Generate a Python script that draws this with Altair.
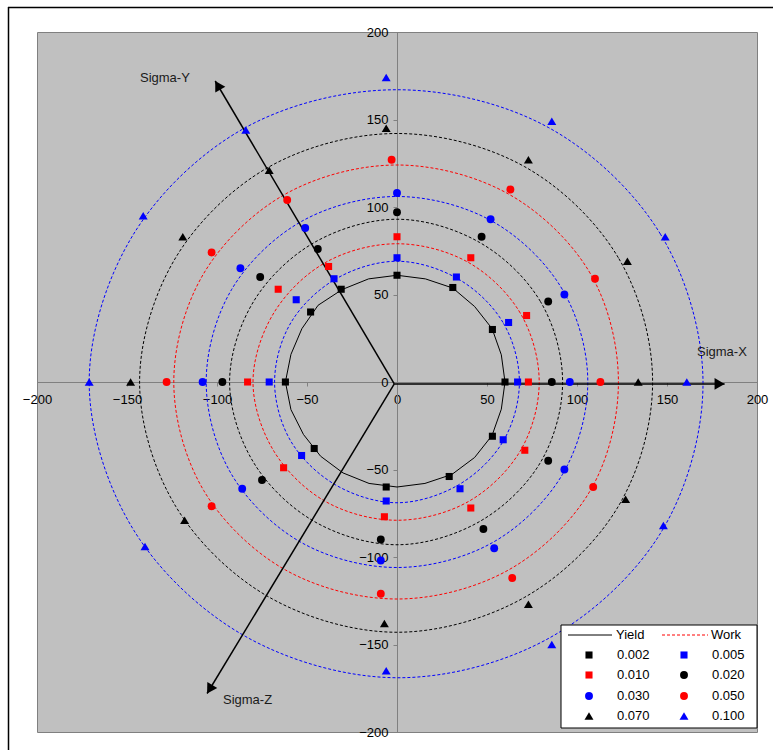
import math
import altair as alt
import pandas as pd

# ---- strain levels, marker styles -------------------------------------------
LEVELS = ["0.002", "0.005", "0.010", "0.020", "0.030", "0.050", "0.070", "0.100"]
LEVEL_COLORS = ["#000000", "#0000FF", "#FF0000", "#000000",
                "#0000FF", "#FF0000", "#000000", "#0000FF"]
LEVEL_SHAPES = ["square", "square", "square", "circle",
                "circle", "circle", "triangle-up", "triangle-up"]

# ---- measured stress points in the deviatoric plane, per strain level -------
MARK_X = {
    "0.002": [0, 31, 53, 60, 53, 29, -6, -46, -62, -48, -31],
    "0.005": [0, 33, 62, 67, 59, 35, -6, -53, -71, -56, -35],
    "0.010": [0, 41, 72, 73, 71, 41, -7, -63, -83, -66, -38],
    "0.020": [0, 47, 84, 86, 84, 48, -9, -75, -97, -76, -44],
    "0.030": [0, 52, 93, 96, 93, 54, -9, -86, -108, -87, -51],
    "0.050": [-3, 63, 110, 113, 109, 64, -9, -103, -128, -103, -61],
    "0.070": [-6, 73, 128, 134, 127, 73, -7, -118, -148, -119, -71],
    "0.100": [-6, 86, 149, 161, 148, 86, -6, -140, -171, -141, -84],
}
MARK_Y = {
    "0.002": [61, 54, 30, 0, -31, -54, -60, -38, 0, 40, 53],
    "0.005": [71, 60, 34, 0, -33, -61, -68, -42, 0, 47, 59],
    "0.010": [83, 71, 38, 0, -39, -72, -77, -49, 0, 53, 66],
    "0.020": [97, 83, 46, 0, -45, -84, -90, -56, 0, 60, 76],
    "0.030": [108, 93, 50, 0, -50, -95, -102, -61, 0, 65, 88],
    "0.050": [127, 110, 59, 0, -60, -112, -121, -71, 0, 74, 104],
    "0.070": [145, 127, 69, 0, -67, -127, -138, -79, 0, 83, 121],
    "0.100": [174, 149, 83, 0, -82, -150, -165, -94, 0, 95, 144],
}

# ---- initial yield locus (radius vs. polar angle) ---------------------------
YIELD_ANGLE = [0, 15, 30, 45, 60, 75, 90, 105, 120, 135, 150, 165,
               180, 195, 210, 225, 240, 255, 270, 285, 300, 315, 330, 345]
YIELD_R = [60, 60, 61, 61, 62, 61, 61, 61, 61, 62, 61, 61,
           62, 61, 60, 60, 60, 60, 60, 60, 61, 61, 61, 60]

# ---- equal plastic work contours (radius vs. polar angle) -------------------
WORK_LEVELS = ["0.005", "0.010", "0.020", "0.030", "0.050", "0.070", "0.100"]
WORK_COLORS = ["#0000FF", "#FF0000", "#000000", "#0000FF",
               "#FF0000", "#000000", "#0000FF"]
WORK_ANGLE = [0, 30, 60, 90, 120, 150, 180, 210, 240, 270, 300, 330]
WORK_R = {
    "0.005": [68, 68, 68, 69, 68, 68, 68, 68, 68, 69, 68, 68],
    "0.010": [79, 79, 79, 79, 79, 79, 80, 79, 79, 79, 79, 79],
    "0.020": [92, 92, 92, 93, 92, 92, 93, 92, 92, 93, 92, 92],
    "0.030": [106, 106, 106, 106, 106, 106, 106, 106, 106, 106, 106, 106],
    "0.050": [123, 124, 124, 124, 124, 124, 124, 124, 124, 124, 124, 124],
    "0.070": [142, 142, 142, 142, 142, 142, 143, 142, 142, 143, 142, 142],
    "0.100": [170, 169, 168, 167, 168, 169, 171, 169, 168, 169, 169, 170],
}

# ---- principal stress directions projected on the plane ---------------------
AXIS_NAMES = ["Sigma-X", "Sigma-Y", "Sigma-Z"]
AXIS_TIP_X = [182, -101, -105.5]
AXIS_TIP_Y = [-1.1, 172, -178]
AXIS_ORIGIN = (-1.5, -1.1)

FONT = "Liberation Sans"

# plot-area geometry (pixels) used to place annotation items
W, H = 720, 700
PX_X = W / 400.0
PX_Y = H / 400.0


def px_to_x(px):
    return (px - 360) / PX_X


def px_to_y(py):
    return (350 - py) / PX_Y


# ---- tables -----------------------------------------------------------------
size_of = {"square": 50, "circle": 62, "triangle-up": 80}
style = {lv: (c, s) for lv, c, s in zip(LEVELS, LEVEL_COLORS, LEVEL_SHAPES)}

marks = pd.DataFrame([
    {"level": lv, "x": x, "y": y, "col": style[lv][0], "shp": style[lv][1],
     "sz": size_of[style[lv][1]]}
    for lv in LEVELS for x, y in zip(MARK_X[lv], MARK_Y[lv])
])

yield_df = pd.DataFrame({
    "x": [r * math.cos(math.radians(a)) for a, r in zip(YIELD_ANGLE, YIELD_R)],
    "y": [r * math.sin(math.radians(a)) for a, r in zip(YIELD_ANGLE, YIELD_R)],
    "i": list(range(len(YIELD_ANGLE))),
})

work_df = pd.DataFrame([
    {"level": lv, "i": i, "col": c,
     "x": r * math.cos(math.radians(a)), "y": r * math.sin(math.radians(a))}
    for lv, c in zip(WORK_LEVELS, WORK_COLORS)
    for i, (a, r) in enumerate(zip(WORK_ANGLE, WORK_R[lv]))
])

arrows = pd.DataFrame({
    "name": AXIS_NAMES,
    "x": [AXIS_ORIGIN[0]] * 3, "y": [AXIS_ORIGIN[1]] * 3,
    "x2": AXIS_TIP_X, "y2": AXIS_TIP_Y,
})

# arrowheads: centred 5 px back from each tip, rotated along the shaft
heads = []
for tx, ty in zip(AXIS_TIP_X, AXIS_TIP_Y):
    dxp = (tx - AXIS_ORIGIN[0]) * PX_X
    dyp = -(ty - AXIS_ORIGIN[1]) * PX_Y
    L = math.hypot(dxp, dyp)
    ux, uy = dxp / L, dyp / L
    cx = tx - 5 * ux / PX_X
    cy = ty + 5 * uy / PX_Y
    rot = math.degrees(math.atan2(ux, -uy)) % 360
    heads.append({"x": cx, "y": cy, "rot": rot})
heads = pd.DataFrame(heads)

axis_labels = pd.DataFrame({
    "text": ["Sigma-X", "Sigma-Y", "Sigma-Z"],
    "x": [px_to_x(660), px_to_x(103), px_to_x(186)],
    "y": [px_to_y(320), px_to_y(46), px_to_y(668)],
})

# ---- shared encodings -------------------------------------------------------
xscale = alt.Scale(domain=[-200, 200], nice=False, zero=False)
yscale = alt.Scale(domain=[-200, 200], nice=False, zero=False)
tick_vals = [-200, -150, -100, -50, 0, 50, 100, 150, 200]

X = alt.X("x:Q", scale=xscale, axis=alt.Axis(
    values=tick_vals, title=None, grid=False, offset=-H / 2, orient="bottom",
    domainColor="#808080", tickColor="#808080", tickSize=4, labelPadding=7,
    labelFont=FONT, labelFontSize=13, labelColor="#000000",
    labelFlush=False, labelOverlap=False))
Y = alt.Y("y:Q", scale=yscale, axis=alt.Axis(
    values=tick_vals, title=None, grid=False, offset=-W / 2, orient="left",
    domainColor="#808080", tickColor="#808080", tickSize=4, labelPadding=5,
    labelFont=FONT, labelFontSize=13, labelColor="#000000",
    labelFlush=False, labelOverlap=False))

COL = alt.Color("col:N", scale=None)
SHP = alt.Shape("shp:N", scale=None)
SZ = alt.Size("sz:Q", scale=None)

# ---- layers -----------------------------------------------------------------
work_layer = alt.Chart(work_df).mark_line(
    interpolate="cardinal-closed", strokeDash=[3, 2], strokeWidth=1
).encode(x=X, y=Y, order="i:Q", detail="level:N", color=COL)

yield_layer = alt.Chart(yield_df).mark_line(
    interpolate="linear-closed", color="#000000", strokeWidth=1
).encode(x=X, y=Y, order="i:Q")

arrow_layer = alt.Chart(arrows).mark_rule(color="#000000", strokeWidth=1.5).encode(
    x=X, y=Y, x2="x2:Q", y2="y2:Q")

head_layer = alt.Chart(heads).mark_point(
    shape="triangle-up", filled=True, color="#000000", opacity=1, size=135
).encode(x=X, y=Y, angle=alt.Angle("rot:Q", scale=None))

marker_layer = alt.Chart(marks).mark_point(filled=True, opacity=1).encode(
    x=X, y=Y, color=COL, shape=SHP, size=SZ)

label_layer = alt.Chart(axis_labels).mark_text(
    align="left", baseline="middle", font=FONT, fontSize=13, color="#1a1a1a"
).encode(x=X, y=Y, text="text:N")

# ---- legend box -------------------------------------------------------------
box = pd.DataFrame({"x": [px_to_x(524)], "x2": [px_to_x(720)],
                    "y": [px_to_y(593)], "y2": [px_to_y(696)]})
legend_box = alt.Chart(box).mark_rect(fill="#FFFFFF", stroke="#000000", strokeWidth=1).encode(
    x=X, y=Y, x2="x2:Q", y2="y2:Q")

yield_key = pd.DataFrame({"x": [px_to_x(531)], "x2": [px_to_x(575)],
                          "y": [px_to_y(603)], "y2": [px_to_y(603)]})
work_key = pd.DataFrame({"x": [px_to_x(625)], "x2": [px_to_x(671)],
                         "y": [px_to_y(603)], "y2": [px_to_y(603)]})
legend_yield = alt.Chart(yield_key).mark_rule(color="#000000", strokeWidth=1).encode(
    x=X, y=Y, x2="x2:Q", y2="y2:Q")
legend_work = alt.Chart(work_key).mark_rule(color="#FF0000", strokeWidth=1, strokeDash=[3, 2]).encode(
    x=X, y=Y, x2="x2:Q", y2="y2:Q")

row_py = [623, 643, 664, 684]
leg_rows = []
for k, lv in enumerate(LEVELS):
    r, c = k // 2, k % 2
    shp = LEVEL_SHAPES[k]
    leg_rows.append({"level": lv, "col": LEVEL_COLORS[k], "shp": shp, "sz": size_of[shp],
                     "x": px_to_x(552 if c == 0 else 647), "y": px_to_y(row_py[r]),
                     "tx": px_to_x(580 if c == 0 else 675)})
leg_df = pd.DataFrame(leg_rows)
legend_points = alt.Chart(leg_df).mark_point(filled=True, opacity=1).encode(
    x=X, y=Y, color=COL, shape=SHP, size=SZ)

leg_text = pd.DataFrame(
    [{"text": "Yield", "x": px_to_x(579), "y": px_to_y(603)},
     {"text": "Work", "x": px_to_x(674), "y": px_to_y(603)}]
    + [{"text": row["level"], "x": row["tx"], "y": row["y"]} for row in leg_rows]
)
legend_text = alt.Chart(leg_text).mark_text(
    align="left", baseline="middle", font=FONT, fontSize=13, color="#000000"
).encode(x=X, y=Y, text="text:N")

# ---- outer chart frame (left and top edges) ---------------------------------
one = pd.DataFrame({"k": [0]})
frame_left = alt.Chart(one).mark_rule(color="#000000", strokeWidth=1.5).encode(
    x=alt.value(-28.5), y=alt.value(-25), y2=alt.value(H + 20))
frame_top = alt.Chart(one).mark_rule(color="#000000", strokeWidth=1.5).encode(
    x=alt.value(-29), x2=alt.value(W + 16), y=alt.value(-24.5))

chart = alt.layer(
    work_layer, yield_layer, arrow_layer, head_layer, marker_layer, label_layer,
    legend_box, legend_yield, legend_work, legend_points, legend_text,
    frame_left, frame_top,
).properties(
    width=W, height=H, autosize="none",
    padding={"left": 37, "top": 32, "right": 16, "bottom": 18},
    background="#FFFFFF",
).configure_view(
    fill="#C0C0C0", stroke="#808080", strokeWidth=1,
)

chart.save("out.html", embed_options={"renderer": "svg", "actions": False})
